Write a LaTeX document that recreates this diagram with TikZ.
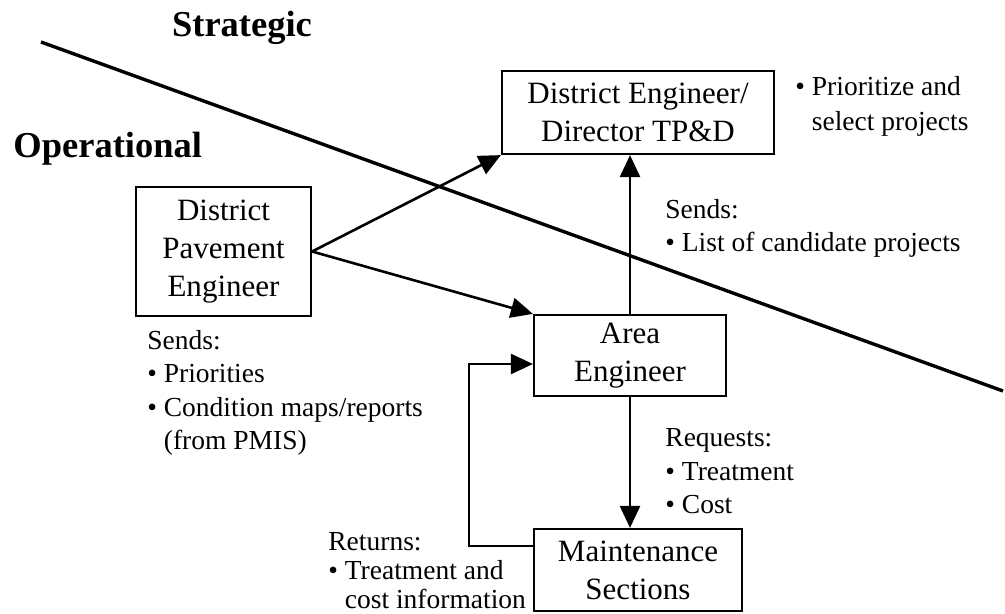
\documentclass[tikz,border=0pt]{standalone}
\usepackage{fontspec}
\setmainfont{Liberation Serif}
\usetikzlibrary{arrows.meta}

\begin{document}
\begin{tikzpicture}[x=0.5pt,y=-0.5pt]
        \tikzstyle{box}=[draw, line width=1.1pt, align=center, inner sep=0pt, font=\fontsize{15.5}{19}\selectfont]
        \tikzstyle{note}=[align=left, anchor=west, inner sep=0pt, font=\fontsize{13.75}{16.7}\selectfont]
        \tikzstyle{level}=[inner sep=0pt, font=\fontsize{18.25}{22}\selectfont\bfseries]
        \tikzstyle{arr}=[-{Triangle[length=11pt,width=10pt]}, line width=1.3pt]
        \useasboundingbox (0,0) rectangle (1005,614);
        % strategic / operational divide
        \draw[line width=1.7pt] (41,42) -- (1003,391);
        \node[level, anchor=base] (strat) at (242,37) {Strategic};
        \node[level, anchor=base west] (oper) at (13,158) {Operational};
        % boxes
        \node[box, minimum width=136pt, minimum height=41.5pt] (de) at (638,112.5) {District Engineer/\\Director TP\&D};
        \node[box, minimum width=87.5pt, minimum height=64.5pt] (dpe) at (223.5,251.5) {District\\Pavement\\Engineer};
        \node[box, minimum width=96pt, minimum height=40.5pt] (area) at (630,355.5) {Area\\Engineer};
        \node[box, minimum width=104pt, minimum height=41pt] (maint) at (638,570) {Maintenance\\Sections};
        % notes
        \node[note, font=\fontsize{13.75}{17.5}\selectfont] (prio) at (795,106) {\textbullet\ Prioritize and\\\phantom{\textbullet\ }select projects};
        \node[note] (sendsup) at (665,228.5) {Sends:\\\textbullet\ List of candidate projects};
        \node[note] (sendsdpe) at (147,393) {Sends:\\\textbullet\ Priorities\\\textbullet\ Condition maps/reports\\\phantom{\textbullet\ }(from PMIS)};
        \node[note] (req) at (665,471.5) {Requests:\\\textbullet\ Treatment\\\textbullet\ Cost};
        \node[note, font=\fontsize{13.75}{14.5}\selectfont] (ret) at (328,571) {Returns:\\\textbullet\ Treatment and\\\phantom{\textbullet\ }cost information};
        % flows
        \draw[arr] (dpe.east) -- (de.south west);
        \draw[arr] (dpe.east) -- (area.north west);
        \draw[arr] (area.north) -- (area.north |- de.south);
        \draw[arr] (area.south) -- (area.south |- maint.north);
        \draw[arr] ([yshift=12pt]maint.west) -- ++(-64,0) |- ([yshift=-4.25pt]area.west);
\end{tikzpicture}
\end{document}
